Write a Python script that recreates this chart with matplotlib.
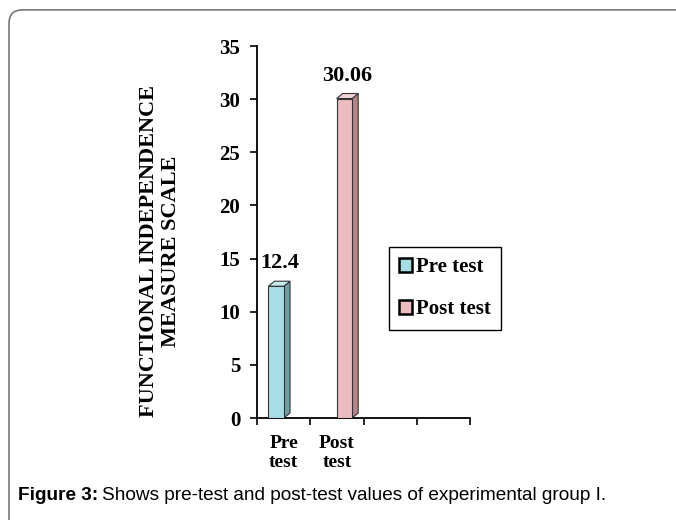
import matplotlib
matplotlib.use('Agg')
import matplotlib.pyplot as plt
from matplotlib.patches import FancyBboxPatch
import numpy as np

categories = ['Pre\ntest', 'Post\ntest', '', '']
series = ['Pre test', 'Post test']
values = [12.4, 30.06]
value_labels = ['12.4', '30.06']
yticks = [0, 5, 10, 15, 20, 25, 30, 35]

front = ['#a9dde5', '#ebbcc0']
side = ['#6f9fa6', '#b48489']
top = ['#c8ecf0', '#f3d3d6']

serif = 'Liberation Serif'

fig = plt.figure(figsize=(6.76, 5.2), dpi=100)

# rounded frame round the whole figure
frame = FancyBboxPatch((9/676, -0.05), 1.05, 0.981 + 0.05,
                       boxstyle='round,pad=0,rounding_size=0.02',
                       mutation_aspect=676/520, transform=fig.transFigure,
                       facecolor='none', edgecolor='#777777', lw=1.2)
fig.patches.append(frame)

ax = fig.add_axes([257/676, 1-418/520, 213/676, 372/520])

x = np.arange(len(categories))
offsets = [-0.14, 0.14]
width = 0.29
dx, dy = 0.115, 0.47  # fake 3d depth

for i in range(len(series)):
    xpos = x[i] + offsets[i]
    b = ax.bar(xpos, values[i], width=width, color=front[i], edgecolor='#333333',
               linewidth=0.8, label=series[i], zorder=3)[0]
    x0 = b.get_x()
    x1 = x0 + b.get_width()
    h = b.get_height()
    ax.fill([x1, x1+dx, x1+dx, x1], [0, dy, h+dy, h], color=side[i],
            edgecolor='#333333', lw=0.8, zorder=2, clip_on=False)
    ax.fill([x0, x1, x1+dx, x0+dx], [h, h, h+dy, h+dy], color=top[i],
            edgecolor='#333333', lw=0.8, zorder=4, clip_on=False)
    ax.text(xpos + dx/2, h + 1.2, value_labels[i], ha='center', va='bottom',
            fontsize=16, fontweight='bold', family=serif)

ax.set_xlim(-0.5, len(categories) - 0.5)
ax.set_ylim(0, 35)
ax.set_yticks(yticks)
ax.set_yticklabels([str(t) for t in yticks], fontsize=15, fontweight='bold', family=serif)
ax.set_xticks(np.arange(len(categories) + 1) - 0.5)
ax.set_xticklabels([])
ax.set_xticks(x, minor=True)
ax.set_xticklabels(categories, minor=True, fontsize=14, fontweight='bold',
                   family=serif, linespacing=1.15)
ax.tick_params(axis='x', which='minor', length=0, pad=12)
ax.tick_params(axis='x', which='major', length=5, width=1.2, direction='out')
ax.tick_params(axis='y', length=5, width=1.2, direction='out', pad=7)

for s in ['top', 'right']:
    ax.spines[s].set_visible(False)
for s in ['left', 'bottom']:
    ax.spines[s].set_linewidth(1.3)

fig.text(160/676, 1-251/520, 'FUNCTIONAL INDEPENDENCE\nMEASURE SCALE', rotation=90,
         ha='center', va='center', fontsize=16, fontweight='bold', family=serif,
         linespacing=1.2)

leg = fig.legend(loc='upper left', bbox_to_anchor=(389/676, 1-247/520),
                 prop={'family': serif, 'weight': 'bold', 'size': 15},
                 fancybox=False, edgecolor='black', framealpha=1,
                 handlelength=0.6, handleheight=0.6, handletextpad=0.2,
                 labelspacing=1.05, borderpad=0.5, borderaxespad=0)
leg.get_frame().set_linewidth(1.0)
for hnd in leg.legend_handles:
    hnd.set_edgecolor('black')
    hnd.set_linewidth(1.8)

t1 = fig.text(18/676, 1-500/520, 'Figure 3:', fontsize=13.7, fontweight='bold',
              family='Liberation Sans', va='baseline')
ax.annotate('Shows pre-test and post-test values of experimental group I.',
            xy=(1, 0), xycoords=t1, xytext=(3, 0), textcoords='offset points',
            va='bottom', fontsize=13.7, family='Liberation Sans', annotation_clip=False)

fig.savefig('out.png', dpi=100)
